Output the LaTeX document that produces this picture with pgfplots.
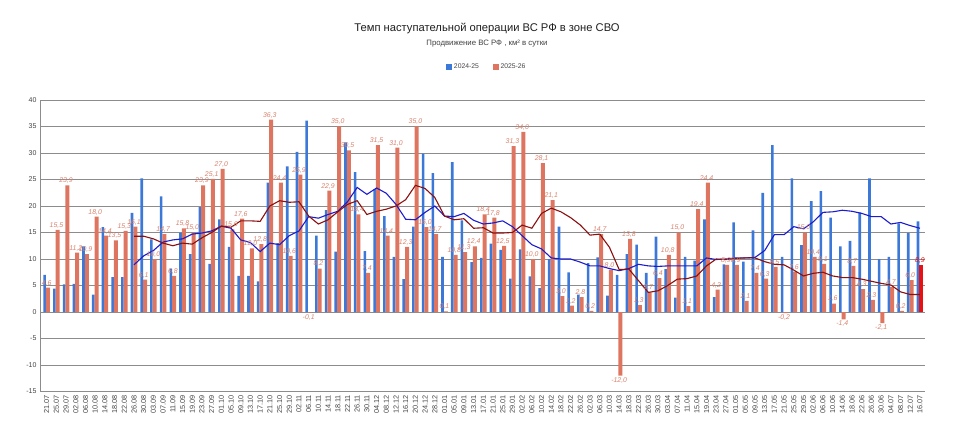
\documentclass[border=0pt]{standalone}
\usepackage{fontspec}
\setmainfont{Liberation Sans}
\usepackage{pgfplots}
\pgfplotsset{compat=1.18}
\usepackage{pgfplotstable}
\definecolor{cblue}{HTML}{3C78D8}
\definecolor{corange}{HTML}{DD7560}
\definecolor{clabel}{HTML}{D9826E}
\definecolor{lblue}{HTML}{1C1CCC}
\definecolor{lred}{HTML}{8B1010}
\definecolor{cred}{HTML}{E81010}
\definecolor{cgrid}{HTML}{8C8C8C}
\definecolor{ctext}{HTML}{444444}

\pgfplotstableread{
x b o
0 7.0 4.6
1 4.4 15.5
2 5.2 23.9
3 5.3 11.2
4 12.4 10.9
5 3.3 18.0
6 16.0 14.4
7 6.6 13.5
8 6.6 15.3
9 18.7 16.1
10 25.2 6.1
11 13.7 10.0
12 21.8 14.7
13 8.2 6.8
14 15.0 15.8
15 10.9 15.0
16 19.8 23.9
17 9.1 25.1
18 17.5 27.0
19 12.3 15.6
20 6.8 17.6
21 6.8 12.0
22 5.8 12.8
23 24.4 36.3
24 13.0 24.4
25 27.5 10.6
26 30.2 25.9
27 36.1 -0.1
28 14.4 8.2
29 19.2 22.9
30 11.4 35.0
31 32.0 30.5
32 26.4 18.4
33 11.5 7.4
34 23.2 31.5
35 18.1 14.4
36 10.4 31.0
37 6.2 12.3
38 16.1 35.0
39 29.9 16.0
40 26.2 14.7
41 10.4 0.1
42 28.3 10.8
43 17.3 11.3
44 9.4 12.4
45 10.2 18.4
46 12.9 17.8
47 11.7 12.5
48 6.3 31.3
49 11.8 34.0
50 6.7 10.0
51 4.5 28.1
52 10.0 21.1
53 16.1 3.0
54 7.5 1.2
55 3.3 2.8
56 9.2 0.2
57 10.3 14.7
58 3.1 8.0
59 7.0 -12.0
60 10.9 13.8
61 12.7 1.3
62 7.4 3.7
63 14.2 6.4
64 8.1 10.8
65 2.7 15.0
66 10.4 1.1
67 9.7 19.4
68 17.5 24.4
69 2.8 4.2
70 9.0 8.9
71 16.9 8.9
72 9.5 2.1
73 15.4 7.4
74 22.5 6.3
75 31.5 8.5
76 10.4 -0.2
77 25.2 7.6
78 12.6 15.0
79 20.9 10.4
80 22.8 9.1
81 17.8 1.6
82 12.4 -1.4
83 13.4 8.7
84 18.8 4.3
85 25.2 2.3
86 10.0 -2.1
87 10.4 4.7
88 16.7 0.2
89 14.9 6.0
90 17.1 nan
}\bars

\pgfplotstableread{
x b r
9 8.9 14.3
10 10.6 14.3
11 11.6 13.8
12 13.2 13.0
13 13.6 12.5
14 13.8 13.0
15 14.7 12.8
16 14.9 14.0
17 15.3 15.0
18 16.2 16.2
19 15.8 16.0
20 13.6 17.2
21 13.1 17.2
22 11.4 17.1
23 13.0 20.0
24 12.7 21.0
25 14.4 20.7
26 15.3 20.8
27 18.0 18.1
28 17.7 16.6
29 18.4 17.4
30 19.0 18.9
31 20.8 20.3
32 23.5 21.0
33 22.2 18.4
34 23.4 19.0
35 22.4 19.4
36 20.3 20.0
37 17.5 21.2
38 17.4 23.9
39 18.8 23.3
40 20.0 21.6
41 18.1 18.1
42 18.0 17.4
43 18.6 17.6
44 17.3 15.8
45 16.6 15.9
46 16.8 14.9
47 17.2 14.9
48 16.1 15.0
49 14.4 16.4
50 12.7 15.8
51 11.9 18.6
52 10.2 19.6
53 10.0 18.9
54 10.0 17.8
55 9.4 16.4
56 8.7 14.5
57 8.7 14.7
58 8.2 12.2
59 7.8 8.0
60 8.2 8.1
61 9.0 5.9
62 8.7 3.7
63 8.6 4.0
64 8.7 5.0
65 8.7 6.2
66 8.7 6.3
67 8.7 6.8
68 10.2 8.7
69 9.9 10.0
70 10.0 9.9
71 10.2 10.1
72 10.2 10.2
73 10.3 10.2
74 11.6 9.5
75 14.6 9.0
76 14.6 8.9
77 16.1 7.9
78 15.7 6.8
79 17.0 7.3
80 18.8 7.5
81 18.9 6.8
82 19.2 6.5
83 19.0 6.5
84 18.6 6.2
85 18.0 5.8
86 18.0 5.4
87 16.6 5.1
88 16.9 3.8
89 16.3 3.3
90 15.8 3.3
}\lines

\begin{document}
\begin{tikzpicture}[x=1pt,y=1pt]
\useasboundingbox (0,0) rectangle (974,437);
\node[font=\fontsize{11.2}{13}\selectfont, text=black!88] at (487,408) {Темп наступательной операции ВС РФ в зоне СВО};
\node[font=\fontsize{7.8}{9}\selectfont, text=black!75] at (487,393) {Продвижение ВС РФ , км² в сутки};
\begin{axis}[
  at={(40pt,45.5pt)}, anchor=south west,
  scale only axis, width=885pt, height=291.5pt,
  xmin=-0.69, xmax=90.52, ymin=-15, ymax=40,
  ytick={-15,-10,...,40},
  xtick={0,...,90},
  xticklabels={21.07,25.07,29.07,02.08,06.08,10.08,14.08,18.08,22.08,26.08,30.08,03.09,07.09,11.09,15.09,19.09,23.09,27.09,01.10,05.10,09.10,13.10,17.10,21.10,25.10,29.10,02.11,06.11,10.11,14.11,18.11,22.11,26.11,30.11,04.12,08.12,12.12,16.12,20.12,24.12,28.12,01.01,05.01,09.01,13.01,17.01,21.01,25.01,29.01,02.02,06.02,10.02,14.02,18.02,22.02,26.02,02.03,06.03,10.03,14.03,18.03,22.03,26.03,30.03,03.04,07.04,11.04,15.04,19.04,23.04,27.04,01.05,05.05,09.05,13.05,17.05,21.05,25.05,29.05,02.06,06.06,10.06,14.06,18.06,22.06,26.06,30.06,04.07,08.07,12.07,16.07},
  x tick label style={rotate=90, anchor=east, font=\fontsize{7.3}{8}\selectfont, text=ctext},
  y tick label style={font=\fontsize{7}{8}\selectfont, text=ctext},
  /pgf/number format/assume math mode=true,
  major tick length=0pt,
  ymajorgrids, grid style={cgrid, line width=0.8pt},
  axis y line*=left, axis x line*=bottom,
  axis line style={-, cgrid, line width=0.8pt},
  legend columns=2,
  legend style={at={(0.505,1.113)}, anchor=center, draw=none, fill=none,
    font=\fontsize{6.8}{8}\selectfont, text=ctext,
    /tikz/every even column/.append style={column sep=12pt}},
  clip=false,
]
\addplot[ybar, bar width=2.6pt, bar shift=-2pt, fill=cblue, draw=none,
  legend image code/.code={\fill[cblue] (0pt,-2.8pt) rectangle (5.6pt,2.8pt);}]
  table[x=x, y=b] {\bars};
\addlegendentry{2024-25}
\addplot[ybar, bar width=4pt, bar shift=1.3pt, fill=corange, draw=none,
  nodes near coords={\pgfmathprintnumber[fixed,fixed zerofill,precision=1,use comma,assume math mode=true]{\pgfplotspointmeta}},
  nodes near coords align={vertical},
  every node near coord/.append style={font=\itshape\fontsize{6.9}{8}\selectfont, text=clabel, inner sep=1.5pt},
  legend image code/.code={\fill[corange] (0pt,-2.8pt) rectangle (5.6pt,2.8pt);}]
  table[x=x, y=o] {\bars};
\addlegendentry{2025-26}
\addplot[ybar, bar width=4pt, bar shift=1.3pt, fill=cred, draw=none, forget plot,
  nodes near coords={\pgfmathprintnumber[fixed,fixed zerofill,precision=1,use comma,assume math mode=true]{\pgfplotspointmeta}},
  nodes near coords align={vertical},
  every node near coord/.append style={font=\itshape\fontsize{6.9}{8}\selectfont, text=cred, inner sep=1.5pt}]
  coordinates {(90,8.9)};
\addplot[lblue, line width=1.1pt, forget plot] table[x=x, y=b] {\lines};
\addplot[lred, line width=1.1pt, forget plot] table[x=x, y=r] {\lines};
\end{axis}
\end{tikzpicture}
\end{document}
